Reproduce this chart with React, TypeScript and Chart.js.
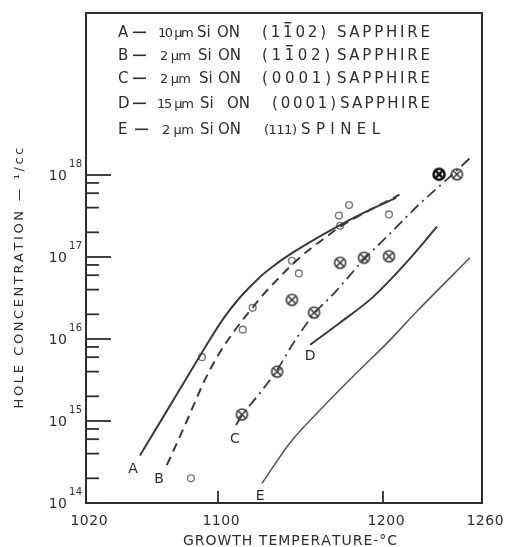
import React, { useEffect, useRef } from 'react';
import { Chart, registerables } from 'chart.js';

Chart.register(...registerables);

// Axis ticks
const tempTicks = [1020, 1100, 1200, 1260];
const tempMarks = [1100, 1200];
const decadeTicks = [1e14, 1e15, 1e16, 1e17, 1e18];
const minorMultipliers = [2, 4, 6, 8];

// Curve A: 10 μm Si on (1-102) sapphire
const curveA_T = [1052.7, 1068, 1083, 1095, 1104, 1113, 1125, 1133, 1145, 1166, 1190, 1208];
const curveA_N = [3.8e14, 1.23e15, 3.9e15, 9.8e15, 1.86e16, 3.16e16, 5.6e16, 7.6e16, 1.12e17, 2.0e17, 3.6e17, 5.25e17];

// Curve B: 2 μm Si on (1-102) sapphire
const curveB_T = [1069, 1080, 1092, 1101, 1110, 1118, 1127, 1137.6, 1145.5, 1156, 1166, 1174, 1190, 1210];
const curveB_N = [2.9e14, 8.9e14, 3.16e15, 6.8e15, 1.26e16, 2.04e16, 3.4e16, 5.75e16, 8.3e16, 1.26e17, 1.78e17, 2.34e17, 3.55e17, 5.75e17];

// Curve C: 2 μm Si on (0001) sapphire
const curveC_T = [1110.9, 1114.5, 1125, 1135.8, 1146, 1158, 1170, 1188, 1205, 1222, 1240, 1254.5];
const curveC_N = [8.9e14, 1.17e15, 2.14e15, 4.2e15, 9.1e15, 2.0e16, 3.55e16, 9.1e16, 2.0e17, 4.4e17, 9.3e17, 1.74e18];

// Curve D: 15 μm Si on (0001) sapphire
const curveD_T = [1155.8, 1173.9, 1193.9, 1214.5, 1232.7];
const curveD_N = [8.5e15, 1.58e16, 3.24e16, 8.7e16, 2.34e17];

// Curve E: 2 μm Si on (111) spinel
const curveE_T = [1126.7, 1143.6, 1163.6, 1184.2, 1202.4, 1221.2, 1252.7];
const curveE_N = [1.74e14, 5.4e14, 1.48e15, 3.9e15, 8.9e15, 2.24e16, 9.8e16];

// Measured samples, open circles
const openCircle_T = [1083.6, 1090.3, 1115, 1121, 1144.8, 1149, 1174, 1173.3, 1179.4, 1203.6];
const openCircle_N = [2.0e14, 6.0e15, 1.3e16, 2.4e16, 9.0e16, 6.3e16, 2.4e17, 3.2e17, 4.3e17, 3.3e17];

// Measured samples, crossed circles
const crossed_T = [1114.5, 1135.8, 1144.8, 1158.2, 1174, 1188.5, 1203.6, 1244.8];
const crossed_N = [1.2e15, 4.0e15, 3.0e16, 2.1e16, 8.5e16, 9.8e16, 1.02e17, 1.02e18];
const crossedBold_T = [1234];
const crossedBold_N = [1.02e18];

// Curve tags placed on the plot
const curveTags = ['A', 'B', 'C', 'D', 'E'];
const curveTag_T = [1048.5, 1064.2, 1110.3, 1155.8, 1125.5];
const curveTag_N = [2.7e14, 2.0e14, 6.2e14, 6.3e15, 1.26e14];

// Key text
const keyLetters = ['A', 'B', 'C', 'D', 'E'];
const keyThickness = ['10 μm', '2 μm', '2 μm', '15 μm', '2 μm'];
const keyPlane = ['(11\u030402)', '(11\u030402)', '(0001)', '(0001)', '(111)'];
const keySubstrate = ['SAPPHIRE', 'SAPPHIRE', 'SAPPHIRE', 'SAPPHIRE', 'SPINEL'];

const xTitle = 'GROWTH TEMPERATURE-°C';
const yTitle = 'HOLE CONCENTRATION — ¹/cc';

const INK = '#2e2e2e';
const FONT = '"DejaVu Sans", sans-serif';

const pts = (xs: number[], ys: number[]) => xs.map((x, i) => ({ x, y: ys[i] }));

type Glyph = { c: string; w: number; bar: boolean };

function glyphs(ctx: CanvasRenderingContext2D, text: string): Glyph[] {
  const items: Glyph[] = [];
  for (const c of Array.from(text)) {
    if (c === '\u0304') {
      if (items.length) items[items.length - 1].bar = true;
      continue;
    }
    items.push({ c, w: ctx.measureText(c).width, bar: false });
  }
  return items;
}

function paintGlyphs(ctx: CanvasRenderingContext2D, items: Glyph[], x: number, y: number, spacing: number) {
  let cx = x;
  ctx.textAlign = 'left';
  for (const it of items) {
    ctx.fillText(it.c, cx, y);
    if (it.bar) {
      const m = ctx.measureText(it.c);
      const top = y - m.actualBoundingBoxAscent - 3;
      ctx.fillRect(cx + it.w * 0.15, top, it.w * 0.7, 1.4);
    }
    cx += it.w + spacing;
  }
}

function drawSpaced(
  ctx: CanvasRenderingContext2D,
  text: string,
  x: number,
  y: number,
  spacing: number,
  align: 'left' | 'center' | 'right' = 'left'
) {
  const items = glyphs(ctx, text);
  const total = items.reduce((s, it) => s + it.w, 0) + spacing * Math.max(0, items.length - 1);
  const x0 = align === 'center' ? x - total / 2 : align === 'right' ? x - total : x;
  paintGlyphs(ctx, items, x0, y, spacing);
}

// spreads the glyphs of a word evenly between x0 and x1
function drawFit(ctx: CanvasRenderingContext2D, text: string, x0: number, x1: number, y: number, minSpacing = -1.5) {
  const items = glyphs(ctx, text);
  const sum = items.reduce((s, it) => s + it.w, 0);
  const raw = items.length > 1 ? (x1 - x0 - sum) / (items.length - 1) : 0;
  paintGlyphs(ctx, items, x0, y, Math.max(minSpacing, raw));
}

function makeCrossedMarker(color: string, lw: number, r: number) {
  const size = Math.ceil(r * 2 + lw + 2);
  const c = document.createElement('canvas');
  c.width = size;
  c.height = size;
  const g = c.getContext('2d')!;
  const m = size / 2;
  g.fillStyle = '#fff';
  g.beginPath();
  g.arc(m, m, r, 0, Math.PI * 2);
  g.fill();
  g.strokeStyle = color;
  g.lineWidth = lw;
  g.stroke();
  const d = r * 0.6;
  g.beginPath();
  g.moveTo(m - d, m - d);
  g.lineTo(m + d, m + d);
  g.moveTo(m + d, m - d);
  g.lineTo(m - d, m + d);
  g.stroke();
  return c;
}

// column spans of the key block, per row: [start, end]
const keyLayout = [
  { base: 37, thick: [158, 193], si: 197, on: 217, plane: [262, 326], planeFont: 15, sub: [337, 430] },
  { base: 60, thick: [160, 191], si: 198, on: 218, plane: [262, 330], planeFont: 15, sub: [337, 430] },
  { base: 83, thick: [160, 191], si: 199, on: 218, plane: [262, 331], planeFont: 15, sub: [337, 430] },
  { base: 108, thick: [157, 194], si: 200, on: 227, plane: [272, 336], planeFont: 15, sub: [340, 430] },
  { base: 134, thick: [162, 194], si: 200, on: 218, plane: [264, 296], planeFont: 13, sub: [301, 380] },
];

const axesAndText = {
  id: 'axesAndText',
  afterDatasetsDraw(chart: any) {
    const ctx: CanvasRenderingContext2D = chart.ctx;
    const { left, right, top, bottom } = chart.chartArea;
    const xs = chart.scales.x;
    const ys = chart.scales.y;
    ctx.save();
    ctx.fillStyle = INK;
    ctx.strokeStyle = INK;

    // frame
    ctx.lineWidth = 2;
    ctx.strokeRect(left, top, right - left, bottom - top);

    // y ticks (inside)
    ctx.lineWidth = 1.8;
    for (const v of decadeTicks) {
      const py = ys.getPixelForValue(v);
      ctx.beginPath();
      ctx.moveTo(left, py);
      ctx.lineTo(left + 25, py);
      ctx.stroke();
      if (v < decadeTicks[decadeTicks.length - 1]) {
        for (const m of minorMultipliers) {
          const pm = ys.getPixelForValue(v * m);
          ctx.beginPath();
          ctx.moveTo(left, pm);
          ctx.lineTo(left + 13, pm);
          ctx.stroke();
        }
      }
      const exp = Math.round(Math.log10(v));
      ctx.font = `14px ${FONT}`;
      drawSpaced(ctx, '10', 67, py + 5, 0.5, 'right');
      ctx.font = `10px ${FONT}`;
      drawSpaced(ctx, String(exp), 69, py - 8, 0.5, 'left');
    }

    // x ticks (inside)
    for (const t of tempMarks) {
      const px = xs.getPixelForValue(t);
      ctx.beginPath();
      ctx.moveTo(px, bottom);
      ctx.lineTo(px, bottom - 12);
      ctx.stroke();
    }
    ctx.font = `14px ${FONT}`;
    for (const t of tempTicks) {
      const px = xs.getPixelForValue(t);
      drawSpaced(ctx, String(t), px + 3, 525, 0.5, 'center');
    }

    // axis titles
    ctx.font = `14px ${FONT}`;
    drawSpaced(ctx, xTitle, 290, 545, 1, 'center');
    ctx.save();
    ctx.translate(23, 278);
    ctx.rotate(-Math.PI / 2);
    ctx.font = `13px ${FONT}`;
    drawSpaced(ctx, yTitle, 0, 0, 2.6, 'center');
    ctx.restore();

    // curve tags
    ctx.font = `14px ${FONT}`;
    curveTags.forEach((tag, i) => {
      const px = xs.getPixelForValue(curveTag_T[i]);
      const py = ys.getPixelForValue(curveTag_N[i]);
      drawSpaced(ctx, tag, px, py + 5, 0, 'center');
    });

    // key block
    keyLetters.forEach((k, i) => {
      const L = keyLayout[i];
      const y = L.base;
      ctx.font = `15px ${FONT}`;
      drawSpaced(ctx, k, 118, y, 0);
      ctx.fillRect(i === 4 ? 135 : 133, y - 5.5, 13, 1.6);
      ctx.font = `13px ${FONT}`;
      drawFit(ctx, keyThickness[i], L.thick[0], L.thick[1], y);
      ctx.font = `15px ${FONT}`;
      drawSpaced(ctx, 'Si', L.si, y, 0);
      drawSpaced(ctx, 'ON', L.on, y, 0);
      ctx.font = `${L.planeFont}px ${FONT}`;
      drawFit(ctx, keyPlane[i], L.plane[0], L.plane[1], y, -0.5);
      ctx.font = `15px ${FONT}`;
      drawFit(ctx, keySubstrate[i], L.sub[0], L.sub[1], y);
    });

    ctx.restore();
  },
};

export default function App() {
  const ref = useRef<HTMLCanvasElement>(null);

  useEffect(() => {
    const canvas = ref.current!;
    const crossed = makeCrossedMarker('#3a3a3a', 1.6, 5.5);
    const crossedBold = makeCrossedMarker('#111', 2.6, 5.5);

    const line = (data: any, width: number, color: string, dash: number[]) => ({
      data,
      showLine: true,
      borderColor: color,
      borderWidth: width,
      borderDash: dash,
      pointRadius: 0,
      cubicInterpolationMode: 'monotone' as const,
      fill: false,
    });

    const chart = new Chart(canvas, {
      type: 'scatter',
      data: {
        datasets: [
          line(pts(curveA_T, curveA_N), 2, '#3a3a3a', []),
          line(pts(curveB_T, curveB_N), 2, '#3a3a3a', [9, 6]),
          line(pts(curveC_T, curveC_N), 1.8, '#3a3a3a', [11, 5, 2, 5]),
          line(pts(curveD_T, curveD_N), 2, '#3a3a3a', []),
          line(pts(curveE_T, curveE_N), 1.5, '#555', []),
          {
            data: pts(openCircle_T, openCircle_N),
            showLine: false,
            pointStyle: 'circle',
            pointRadius: 3.4,
            pointBorderWidth: 1.4,
            pointBorderColor: '#777',
            pointBackgroundColor: '#fff',
          },
          {
            data: pts(crossed_T, crossed_N),
            showLine: false,
            pointStyle: crossed,
            pointRadius: 6,
          },
          {
            data: pts(crossedBold_T, crossedBold_N),
            showLine: false,
            pointStyle: crossedBold,
            pointRadius: 6,
          },
        ] as any,
      },
      options: {
        responsive: false,
        animation: false,
        events: [],
        layout: { padding: { left: 86, right: 24, top: 13, bottom: 44 } },
        plugins: { legend: { display: false }, tooltip: { enabled: false } },
        scales: {
          x: {
            type: 'linear',
            min: 1020,
            max: 1260,
            display: false,
            ticks: { display: false },
            grid: { display: false },
          },
          y: {
            type: 'logarithmic',
            min: 1e14,
            max: 9.45e19,
            display: false,
            ticks: { display: false },
            grid: { display: false },
          },
        },
      },
      plugins: [axesAndText],
    });
    return () => chart.destroy();
  }, []);

  return (
    <div style={{ position: 'absolute', left: 0, top: 0, width: 506, height: 547, background: '#fff' }}>
      <canvas ref={ref} width={506} height={547} style={{ display: 'block', width: 506, height: 547 }} />
    </div>
  );
}
